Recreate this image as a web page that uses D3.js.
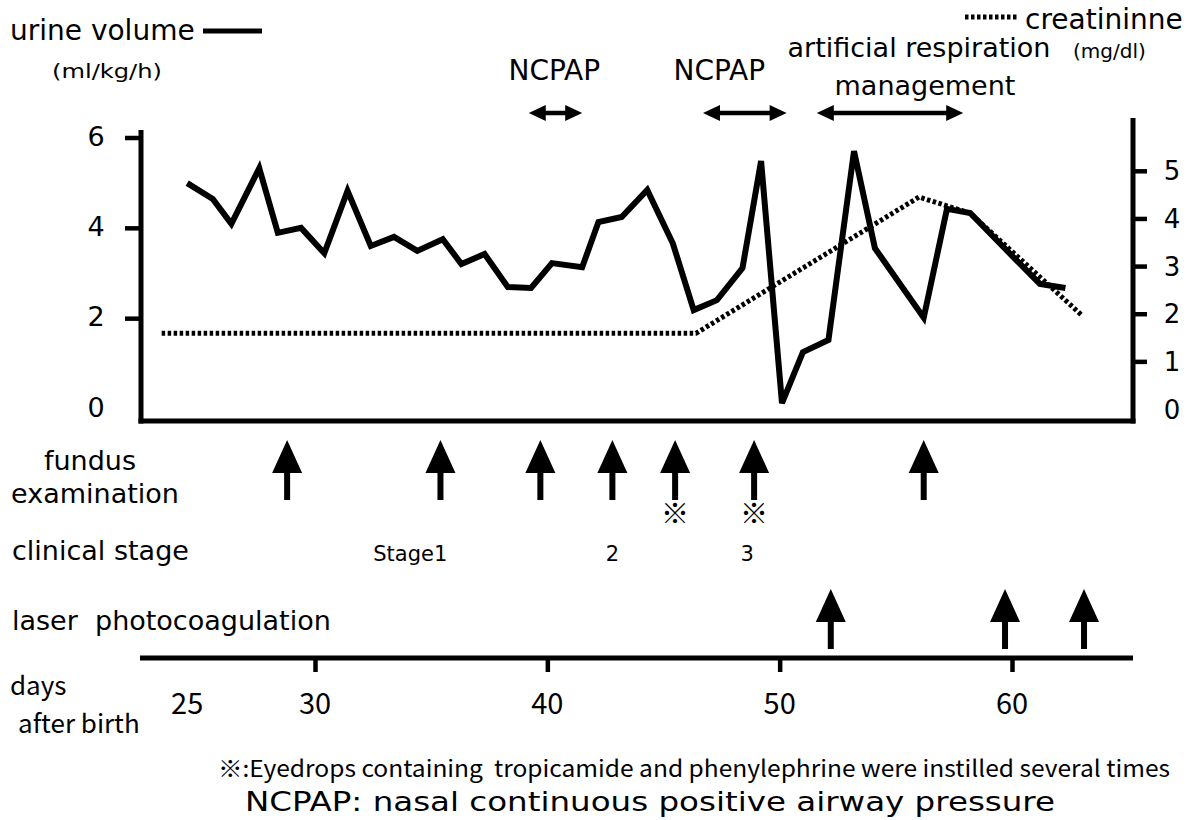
<!DOCTYPE html>
<html><head><meta charset="utf-8">
<script src="https://cdn.jsdelivr.net/npm/d3@7"></script>
<style>
body{margin:0;background:#fff}
svg{display:block}
text{font-family:"DejaVu Sans",sans-serif;fill:#000;white-space:pre}
.cond{font-family:"Noto Sans CJK JP","DejaVu Sans",sans-serif}
</style>
</head><body><svg id="c" width="1200" height="820"></svg>
<script>
// ---- data ----
const urineDays = [24.5,25.6,26.4,27.6,28.4,29.4,30.4,31.4,32.4,33.4,34.4,35.5,36.3,37.3,38.3,39.3,40.2,41.5,42.2,43.2,44.3,45.4,46.3,47.3,48.4,49.2,50.1,51.0,52.1,53.2,54.1,56.2,57.2,58.2,60.1,61.2,62.3];
const urineValues = [5.00,4.65,4.10,5.33,3.90,4.01,3.45,4.83,3.61,3.81,3.50,3.76,3.21,3.43,2.70,2.68,3.23,3.14,4.14,4.25,4.85,3.67,2.19,2.41,3.12,5.49,0.13,1.26,1.53,5.71,3.56,2.02,4.43,4.34,3.34,2.77,2.68];
const creatDays = [23.4,46.4,56.0,58.2,63.0];
const creatValues = [1.6,1.6,4.46,4.12,1.98];
const fundusDays = [28.8,35.4,39.7,42.8,45.5,48.9,56.2];
const eyedropDays = [45.5,48.9];
const laserDays = [52.2,59.7,63.1];
const stageLabels = ["Stage1","2","3"];
const stageDays = [34.1,42.8,48.6];
const periodLabels = ["NCPAP","NCPAP"];
const periodLabelDays = [40.3,47.4];
const periodStart = [39.2,46.7,51.6];
const periodEnd = [41.5,50.3,57.9];
const leftTicks = [0,2,4,6];
const rightTicks = [0,1,2,3,4,5];
const dayTicks = [30,40,50,60];
const dayLabels = [25,30,40,50,60];
const dayLabelAt = [24.5,30,40,50,60];

// ---- scales ----
const svg = d3.select("#c");
const x = d3.scaleLinear().domain([30,60]).range([315,1012]);
const yL = d3.scaleLinear().domain([0,6]).range([409,138]);
const yR = d3.scaleLinear().domain([0,5]).range([409.5,171.3]);

// ---- upper frame ----
const top0 = 118, bottom0 = 421, left0 = 141, right0 = 1133;
svg.append("line").attr("x1",left0).attr("x2",left0).attr("y1",top0+12).attr("y2",bottom0+2.5).attr("stroke","#000").attr("stroke-width",5);
svg.append("line").attr("x1",right0).attr("x2",right0).attr("y1",top0).attr("y2",bottom0+2.5).attr("stroke","#000").attr("stroke-width",5);
svg.append("line").attr("x1",left0-2.5).attr("x2",right0+2.5).attr("y1",bottom0).attr("y2",bottom0).attr("stroke","#000").attr("stroke-width",5);

// left axis ticks & labels
svg.selectAll(".lt").data(leftTicks.filter(d=>d>0)).enter().append("line")
  .attr("x1",left0-16).attr("x2",left0).attr("y1",d=>yL(d)).attr("y2",d=>yL(d))
  .attr("stroke","#000").attr("stroke-width",4.5);
svg.selectAll(".ll").data(leftTicks).enter().append("text")
  .attr("x",96).attr("y",d=>yL(d)-2).attr("text-anchor","middle").attr("dominant-baseline","central")
  .attr("font-size",27).text(d=>d);
// right axis
svg.selectAll(".rt").data(rightTicks.filter(d=>d>0)).enter().append("line")
  .attr("x1",right0).attr("x2",right0+14).attr("y1",d=>yR(d)).attr("y2",d=>yR(d))
  .attr("stroke","#000").attr("stroke-width",4.5);
svg.selectAll(".rl").data(rightTicks).enter().append("text")
  .attr("x",1172).attr("y",d=>yR(d)).attr("text-anchor","middle").attr("dominant-baseline","central")
  .attr("font-size",26).text(d=>d);

// ---- series ----
const urine = urineDays.map((d,i)=>[d,urineValues[i]]);
const creat = creatDays.map((d,i)=>[d,creatValues[i]]);
svg.append("path").datum(creat)
  .attr("d",d3.line().x(d=>x(d[0])).y(d=>yR(d[1])))
  .attr("fill","none").attr("stroke","#000").attr("stroke-width",5).attr("stroke-dasharray","3.5,2.5");
svg.append("path").datum(urine)
  .attr("d",d3.line().x(d=>x(d[0])).y(d=>yL(d[1])))
  .attr("fill","none").attr("stroke","#000").attr("stroke-width",6).attr("stroke-linejoin","miter").attr("stroke-miterlimit",3);

// ---- legends & titles ----
svg.append("text").attr("x",10).attr("y",40).attr("font-size",28).text("urine volume");
svg.append("line").attr("x1",203).attr("x2",262).attr("y1",31).attr("y2",31).attr("stroke","#000").attr("stroke-width",5);
svg.append("text").attr("x",52).attr("y",78).attr("font-size",20).attr("textLength",110).attr("lengthAdjust","spacingAndGlyphs").text("(ml/kg/h)");
svg.append("line").attr("x1",965).attr("x2",1017).attr("y1",17).attr("y2",17).attr("stroke","#000").attr("stroke-width",5).attr("stroke-dasharray","3.5,2.5");
svg.append("text").attr("x",1025).attr("y",29).attr("font-size",28).text("creatininne");
svg.append("text").attr("x",1073).attr("y",58).attr("font-size",20).text("(mg/dl)");
svg.append("text").attr("x",919).attr("y",57).attr("text-anchor","middle").attr("font-size",27).text("artificial respiration");
svg.append("text").attr("x",925).attr("y",95).attr("text-anchor","middle").attr("font-size",27).text("management");
svg.selectAll(".pl").data(periodLabels).enter().append("text")
  .attr("x",(d,i)=>x(periodLabelDays[i])).attr("y",80).attr("text-anchor","middle").attr("font-size",28).text(d=>d);

// double-headed arrows
const ay = 113;
periodStart.forEach((s,i)=>{
  const x1 = x(s), x2 = x(periodEnd[i]);
  svg.append("line").attr("x1",x1+10).attr("x2",x2-10).attr("y1",ay).attr("y2",ay).attr("stroke","#000").attr("stroke-width",4.5);
  svg.append("path").attr("d",`M${x1},${ay} L${x1+17},${ay-8} L${x1+17},${ay+8} Z`).attr("fill","#000");
  svg.append("path").attr("d",`M${x2},${ay} L${x2-17},${ay-8} L${x2-17},${ay+8} Z`).attr("fill","#000");
});

// ---- vertical arrows ----
function upArrow(cx, tip){
  svg.append("path").attr("d",`M${cx},${tip} L${cx+15},${tip+33} L${cx-15},${tip+33} Z`).attr("fill","#000");
  svg.append("rect").attr("x",cx-3).attr("y",tip+30).attr("width",6).attr("height",30).attr("fill","#000");
}
fundusDays.forEach(d=>upArrow(x(d),440));
laserDays.forEach(d=>upArrow(x(d),589));
svg.selectAll(".ed").data(eyedropDays).enter().append("text").attr("class","cond")
  .attr("x",d=>x(d)).attr("y",524).attr("text-anchor","middle").attr("font-size",28).attr("font-weight","bold").text("※");

// row labels
svg.append("text").attr("x",90).attr("y",470).attr("text-anchor","middle").attr("font-size",27).text("fundus");
svg.append("text").attr("x",95).attr("y",503).attr("text-anchor","middle").attr("font-size",27).text("examination");
svg.append("text").attr("x",12).attr("y",560).attr("font-size",27).text("clinical stage");
svg.append("text").attr("x",12).attr("y",630).attr("font-size",27).text("laser  photocoagulation");
svg.selectAll(".st").data(stageLabels).enter().append("text")
  .attr("x",(d,i)=>x(stageDays[i])).attr("y",561).attr("text-anchor","middle").attr("font-size",21).text(d=>d);

// ---- bottom day axis ----
const axY = 658;
const ax = svg.append("g").attr("transform",`translate(0,${axY})`)
  .call(d3.axisBottom(x).tickValues(dayTicks).tickFormat("").tickSize(14).tickSizeOuter(0));
ax.select(".domain").remove();
ax.selectAll(".tick line").attr("stroke","#000").attr("stroke-width",4.5);
svg.append("line").attr("x1",140).attr("x2",1133).attr("y1",axY).attr("y2",axY).attr("stroke","#000").attr("stroke-width",5);
svg.selectAll(".dl").data(dayLabels).enter().append("text").attr("class","cond")
  .attr("x",(d,i)=>x(dayLabelAt[i])).attr("y",714).attr("text-anchor","middle").attr("font-size",29).text(d=>d);
svg.append("text").attr("class","cond").attr("x",10).attr("y",695).attr("font-size",26).text("days");
svg.append("text").attr("class","cond").attr("x",18).attr("y",733).attr("font-size",26).text("after birth");

// ---- footnotes ----
svg.append("text").attr("class","cond").attr("x",218).attr("y",777).attr("font-size",23)
  .attr("textLength",952).attr("lengthAdjust","spacingAndGlyphs")
  .text("※:Eyedrops containing  tropicamide and phenylephrine were instilled several times");
svg.append("text").attr("x",245).attr("y",811).attr("font-size",26)
  .attr("textLength",810).attr("lengthAdjust","spacingAndGlyphs")
  .text("NCPAP: nasal continuous positive airway pressure");
</script>
</body></html>
